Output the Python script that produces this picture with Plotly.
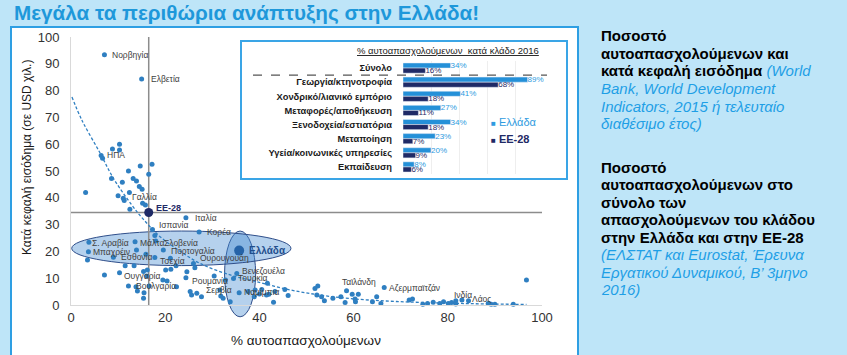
import plotly.graph_objects as go

# ---------------- data: scatter (self-employment % vs GDP per capita, k USD) ----------------
labeled_names = ["Νορβηγία", "Ελβετία", "ΗΠΑ", "Γαλλία", "Ιταλία", "Ισπανία", "Κορέα",
                 "Σ. Αραβία", "Μπαχρέιν", "Μάλτα", "Σλοβενία", "Πορτογαλία", "Εσθονία",
                 "Τσεχία", "Ουρουγουάη", "Ουγγαρία", "Βουλγαρία", "Ρουμανία", "Σερβία",
                 "Βενεζουέλα", "Τουρκία", "Ναμίμπια", "Ταϊλάνδη", "Αζερμπαϊτζάν", "Ινδία", "Λάος"]
labeled_x = [7.1, 15.0, 6.4, 11.3, 24.4, 17.3, 27.2,
             3.8, 3.7, 13.6, 18.0, 19.6, 9.0,
             17.8, 26.0, 10.3, 12.2, 24.4, 27.7,
             35.2, 34.5, 35.7, 58.5, 66.5, 81.7, 84.4]
labeled_y = [93.4, 84.3, 55.8, 39.0, 32.6, 28.2, 27.2,
             23.4, 19.9, 23.6, 23.9, 20.5, 17.8,
             17.7, 15.5, 12.0, 7.1, 10.2, 3.1,
             11.8, 9.9, 4.6, 5.3, 6.5, 1.6, 1.6]

other_x = [6.7, 8.8, 10.3, 10.3, 12.2, 14.7, 17.2, 16.5, 8.6, 10.9, 13.2, 13.9, 14.5, 15.1,
           3.1, 10.0, 12.4, 11.1, 12.5, 15.2, 15.8,
           17.8, 13.9, 15.9, 21.1, 3.5, 22.3, 21.2, 20.1, 11.5, 13.4, 7.1, 15.4, 16.1,
           13.8, 14.1, 15.5, 15.4, 16.6, 19.5, 20.4, 22.4, 24.6, 25.3, 25.6, 26.7,
           30.4, 31.6, 31.8, 32.3, 32.8, 33.8, 26.3, 16.2,
           37.6, 38.9, 39.1, 40.0, 40.5, 41.7, 42.0, 43.0, 43.3, 45.4, 46.1, 41.5,
           51.8, 52.4, 52.2, 53.2, 53.8, 55.6, 57.3, 58.2, 59.7, 60.3, 61.0, 60.4,
           64.0, 64.9, 65.8, 71.8, 72.5, 74.7, 75.7, 76.9, 78.3, 79.1, 80.1, 80.8,
           81.7, 83.0, 88.6, 89.2, 90.0, 93.9, 96.7]
other_y = [54.8, 58.2, 60.0, 57.8, 50.0, 51.9, 52.5, 48.8, 47.2, 45.8, 47.2, 46.3, 44.2, 43.2,
           42.0, 40.8, 42.0, 39.8, 35.7, 38.0, 37.3,
           25.9, 20.5, 18.9, 17.4, 16.8, 14.6, 13.3, 13.1, 14.6, 14.6, 11.2, 12.5, 10.8,
           6.8, 5.2, 4.6, 2.5, 7.1, 9.3, 9.0, 6.8, 12.4, 5.0, 3.7, 4.4,
           10.8, 5.6, 3.4, 2.5, 9.3, 1.2, 13.9, 13.1,
           5.0, 3.1, 5.6, 4.1, 5.8, 8.1, 4.0, 1.0, 5.0, 5.8, 3.5, 3.7,
           6.2, 7.1, 3.7, 3.1, 1.6, 2.5, 3.1, 0.9, 4.0, 2.2, 4.0, 1.2,
           1.2, 3.1, 0.6, 1.9, 2.2, 0.3, 0.6, 1.0, 0.6, 1.2, 0.6, 0.9,
           0.4, 1.9, 0.6, 0.3, 0.3, 0.3, 9.3]

eu_name, eu_x, eu_y = "ΕΕ-28", 16.5, 34.5
gr_name, gr_x, gr_y = "Ελλάδα", 35.7, 20.3

# trend line
trend_x = [0.2, 2.3, 6.2, 9.0, 12.9, 15.2, 18.9, 22.8, 27.4, 33.8, 38.7, 45.8, 52.9, 59.9, 69.1, 79.8, 88.0, 96.7]
trend_y = [77.6, 69.0, 56.6, 47.3, 37.3, 32.3, 25.5, 20.5, 15.5, 11.2, 9.0, 5.9, 3.7, 2.3, 1.3, 0.7, 0.4, 0.2]

# ---------------- data: inset bars ----------------
sectors = ["Σύνολο", "Γεωργία/κτηνοτροφία", "Χονδρικό/λιανικό εμπόριο", "Μεταφορές/αποθήκευση",
           "Ξενοδοχεία/εστιατόρια", "Μεταποίηση", "Υγεία/κοινωνικές υπηρεσίες", "Εκπαίδευση"]
greece_pct = [34, 89, 41, 27, 34, 23, 20, 8]
eu28_pct = [16, 68, 18, 11, 18, 7, 9, 6]

# ---------------- styling ----------------
W, H = 847, 355
FONT = "Liberation Sans, Arial, sans-serif"
BG = "#BEE5F8"
DOT = "#2F7FC1"
NAVY = "#1F2A66"
GR_BLUE = "#2490D8"
LBL = "#404040"


def px(x):
    return x / W


def py(y):
    return 1 - y / H


fig = go.Figure()

fig.add_trace(go.Scatter(x=trend_x, y=trend_y, mode="lines", line_shape="spline",
                         line=dict(color=DOT, width=1.3, dash="3px,2px"),
                         hoverinfo="skip", showlegend=False, xaxis="x", yaxis="y"))

fig.add_trace(go.Scatter(x=other_x + labeled_x, y=other_y + labeled_y, mode="markers",
                         marker=dict(color=DOT, size=5), showlegend=False,
                         xaxis="x", yaxis="y", cliponaxis=False))
fig.add_trace(go.Scatter(x=[eu_x], y=[eu_y], mode="markers", marker=dict(color=NAVY, size=9),
                         showlegend=False, xaxis="x", yaxis="y"))
fig.add_trace(go.Scatter(x=[gr_x], y=[gr_y], mode="markers", marker=dict(color="#2563A8", size=10),
                         showlegend=False, xaxis="x", yaxis="y"))

# inset bars
fig.add_trace(go.Bar(y=sectors, x=greece_pct, orientation="h", name="Ελλάδα",
                     marker_color=GR_BLUE, texttemplate="%{x}%", textposition="outside",
                     textfont=dict(size=8, color="#2E9BE0", family=FONT),
                     constraintext="none", cliponaxis=False, showlegend=False,
                     xaxis="x2", yaxis="y2"))
fig.add_trace(go.Bar(y=sectors, x=eu28_pct, orientation="h", name="ΕΕ-28",
                     marker_color=NAVY, texttemplate="%{x}%", textposition="outside",
                     textfont=dict(size=8, color=NAVY, family=FONT),
                     constraintext="none", cliponaxis=False, showlegend=False,
                     xaxis="x2", yaxis="y2"))

shapes = []
# white panel
shapes.append(dict(type="rect", xref="paper", yref="paper", x0=px(11), x1=px(578), y0=-0.1, y1=py(27),
                   fillcolor="white", line=dict(color="#2E9FE3", width=2), layer="below"))
# inset box
shapes.append(dict(type="rect", xref="paper", yref="paper", x0=px(241), x1=px(567), y0=py(179), y1=py(41),
                   fillcolor="white", line=dict(color="#3AA5E6", width=2), layer="below"))
# ellipses
ell_fill = "rgba(70,140,210,0.40)"
ell_line = dict(color="#2F4E8A", width=1)
shapes.append(dict(type="circle", xref="x", yref="y", x0=0.15, x1=46.7, y0=14.7, y1=27.6,
                   fillcolor=ell_fill, line=ell_line, layer="below"))
shapes.append(dict(type="circle", xref="x", yref="y domain", x0=32.6, x1=39.2, y0=-0.044, y1=0.276,
                   fillcolor=ell_fill, line=ell_line, layer="below"))
# EU reference lines
shapes.append(dict(type="line", xref="x", yref="y", x0=eu_x, x1=eu_x, y0=0, y1=100,
                   line=dict(color="#8C8C8C", width=1.5), layer="below"))
shapes.append(dict(type="line", xref="x", yref="y", x0=0, x1=100, y0=eu_y, y1=eu_y,
                   line=dict(color="#8C8C8C", width=1.5), layer="below"))
# dashed separator in inset
shapes.append(dict(type="line", xref="paper", yref="y2", x0=px(253), x1=px(547), y0=0.5, y1=0.5,
                   line=dict(color="#555555", width=1.2, dash="dash")))

annotations = []
# country labels (offsets in px relative to their dot)
offsets = {"Νορβηγία": (6, 0), "Ελβετία": (7, 0), "ΗΠΑ": (4, 0), "Γαλλία": (6, 3), "Ιταλία": (7, 0),
           "Ισπανία": (5, 4), "Κορέα": (6, 0), "Σ. Αραβία": (1, -1), "Μπαχρέιν": (3, 0),
           "Μάλτα": (3, -1), "Σλοβενία": (6, -2), "Πορτογαλία": (6, -1), "Εσθονία": (6, 0),
           "Τσεχία": (3, -3), "Ουρουγουάη": (5, 5), "Ουγγαρία": (2, -3), "Βουλγαρία": (6, 0),
           "Ρουμανία": (4, -3), "Σερβία": (3, 7), "Βενεζουέλα": (3, 2), "Τουρκία": (2, 0),
           "Ναμίμπια": (3, 1), "Ταϊλάνδη": (-7, 9), "Αζερμπαϊτζάν": (3, 0), "Ινδία": (-4, 6),
           "Λάος": (1, 2)}
for n, x, y in zip(labeled_names, labeled_x, labeled_y):
    dx, dy = offsets[n]
    annotations.append(dict(x=x, y=y, xref="x", yref="y", text=n, showarrow=False,
                            xanchor="left", yanchor="middle", xshift=dx, yshift=dy,
                            font=dict(size=8.5, color=LBL, family=FONT)))
annotations.append(dict(x=eu_x, y=eu_y, xref="x", yref="y", text="<b>" + eu_name + "</b>", showarrow=False,
                        xanchor="left", yanchor="middle", xshift=5, yshift=5,
                        font=dict(size=9, color=NAVY, family=FONT)))
annotations.append(dict(x=gr_x, y=gr_y, xref="x", yref="y", text="<b>" + gr_name + "</b>", showarrow=False,
                        xanchor="left", yanchor="middle", xshift=8, yshift=0,
                        font=dict(size=10, color="#1F4E8C", family=FONT)))

# title
annotations.append(dict(x=px(12), y=py(13), xref="paper", yref="paper", xanchor="left", yanchor="middle",
                        text="<b>Μεγάλα τα περιθώρια ανάπτυξης στην Ελλάδα!</b>", showarrow=False,
                        font=dict(size=20.7, color="#1E98DA", family=FONT)))
# axis titles
annotations.append(dict(x=px(27), y=py(158), xref="paper", yref="paper", xanchor="center", yanchor="middle",
                        text="Κατά κεφαλή εισόδημα (σε USD χιλ.)", textangle=-90, showarrow=False,
                        font=dict(size=12, color="#1a1a1a", family=FONT)))
annotations.append(dict(x=px(306), y=py(340), xref="paper", yref="paper", xanchor="center", yanchor="middle",
                        text="% αυτοαπασχολούμενων", showarrow=False,
                        font=dict(size=13.5, color="#1a1a1a", family=FONT)))
# inset title
annotations.append(dict(x=px(448), y=py(50), xref="paper", yref="paper", xanchor="center", yanchor="middle",
                        text="<u>% αυτοαπασχολούμενων  κατά κλάδο 2016</u>", showarrow=False,
                        font=dict(size=9.5, color="#222222", family=FONT)))
# inset legend
annotations.append(dict(x=px(489), y=py(122), xref="paper", yref="paper", xanchor="left", yanchor="middle",
                        text="<span style='font-size:8px'>■</span> Ελλάδα", showarrow=False,
                        font=dict(size=11, color="#2E9BE0", family=FONT)))
annotations.append(dict(x=px(489), y=py(139), xref="paper", yref="paper", xanchor="left", yanchor="middle",
                        text="<span style='font-size:8px'>■</span> <b>ΕΕ-28</b>", showarrow=False,
                        font=dict(size=11, color=NAVY, family=FONT)))

# right-hand notes
BLUE_I = "#1E9FE6"
block1 = ["<b>Ποσοστό</b>",
          "<b>αυτοαπασχολούμενων και</b>",
          "<b>κατά κεφαλή εισόδημα</b> <i><span style='color:%s'>(World</span></i>" % BLUE_I,
          "<i><span style='color:%s'>Bank, World Development</span></i>" % BLUE_I,
          "<i><span style='color:%s'>Indicators, 2015 ή τελευταίο</span></i>" % BLUE_I,
          "<i><span style='color:%s'>διαθέσιμο έτος)</span></i>" % BLUE_I]
block2 = ["<b>Ποσοστό</b>",
          "<b>αυτοαπασχολούμενων στο</b>",
          "<b>σύνολο των</b>",
          "<b>απασχολούμενων του κλάδου</b>",
          "<b>στην Ελλάδα και στην ΕΕ-28</b>",
          "<i><span style='color:%s'>(ΕΛΣΤΑΤ και Eurostat, Έρευνα</span></i>" % BLUE_I,
          "<i><span style='color:%s'>Εργατικού Δυναμικού, Β’ 3μηνο</span></i>" % BLUE_I,
          "<i><span style='color:%s'>2016)</span></i>" % BLUE_I]
for i, t in enumerate(block1):
    annotations.append(dict(x=px(599), y=py(36 + 17.5 * i), xref="paper", yref="paper",
                            xanchor="left", yanchor="middle", text=t, showarrow=False,
                            font=dict(size=15, color="#000000", family=FONT)))
for i, t in enumerate(block2):
    annotations.append(dict(x=px(599), y=py(167 + 17.5 * i), xref="paper", yref="paper",
                            xanchor="left", yanchor="middle", text=t, showarrow=False,
                            font=dict(size=15, color="#000000", family=FONT)))

fig.update_layout(
    width=W, height=H, margin=dict(l=0, r=0, t=0, b=0, pad=0, autoexpand=False),
    paper_bgcolor=BG, plot_bgcolor="rgba(0,0,0,0)",
    font=dict(family=FONT),
    showlegend=False,
    barmode="group", bargap=0.28, bargroupgap=0,
    shapes=shapes, annotations=annotations,
    xaxis=dict(domain=[px(71), px(542)], range=[0, 100], tickvals=[0, 20, 40, 60, 80, 100],
               showline=True, linecolor="#D9D9D9", linewidth=1, showgrid=False, zeroline=False,
               ticks="", automargin=False, tickfont=dict(size=13, color="#333333"), anchor="y"),
    yaxis=dict(domain=[py(305), py(37)], range=[0, 100], dtick=10,
               showline=True, linecolor="#D9D9D9", linewidth=1, showgrid=False, zeroline=False,
               ticks="", automargin=False, ticklabelstandoff=8,
               tickfont=dict(size=13, color="#333333"), anchor="x"),
    xaxis2=dict(domain=[px(403), px(543)], range=[0, 100], dtick=20, showticklabels=False,
                showgrid=True, gridcolor="#EEEEEE", zeroline=False, showline=False,
                automargin=False, anchor="y2"),
    yaxis2=dict(domain=[py(174), py(61)], type="category", autorange="reversed",
                showline=False, showgrid=False, ticks="", ticklabelstandoff=10, automargin=False,
                tickfont=dict(size=9.3, color="#1a1a1a", family=FONT, weight="bold"),
                anchor="x2"),
)

fig.write_html("out.html", config={"displayModeBar": False},
               post_script="document.body.style.margin='0';document.body.style.overflow='hidden';")
